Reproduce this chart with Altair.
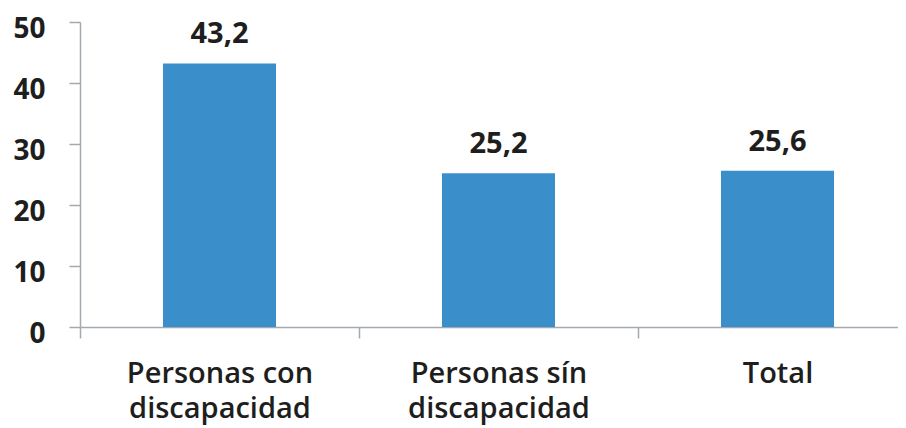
import altair as alt
import pandas as pd

categories = ["Personas con\ndiscapacidad", "Personas sín\ndiscapacidad", "Total"]
values = [43.2, 25.2, 25.6]
value_labels = ["43,2", "25,2", "25,6"]

df = pd.DataFrame({"cat": categories, "val": values, "lbl": value_labels})

FONT = "Open Sans"
AXIS_COLOR = "#a3a9b0"
TEXT_COLOR = "#1e1e1e"

x = alt.X(
    "cat:N",
    sort=categories,
    title=None,
    scale=alt.Scale(paddingInner=0, paddingOuter=0, range=[0, 837]),
    axis=alt.Axis(
        labelAngle=0,
        labelExpr="split(datum.label, '\\n')",
        labelFont=FONT,
        labelFontSize=29,
        labelFontWeight=600,
        labelColor=TEXT_COLOR,
        labelLineHeight=35,
        labelPadding=44,
        labelBaseline="alphabetic",
        labelLimit=400,
        tickBand="extent",
        tickSize=11,
        tickColor=AXIS_COLOR,
        domainColor=AXIS_COLOR,
        tickWidth=1.5,
        domainWidth=1.5,
    ),
)

y = alt.Y(
    "val:Q",
    title=None,
    scale=alt.Scale(domain=[0, 50], nice=False),
    axis=alt.Axis(
        values=[0, 10, 20, 30, 40, 50],
        grid=False,
        labelFont=FONT,
        labelFontSize=28,
        labelFontWeight="bold",
        labelColor=TEXT_COLOR,
        labelPadding=24,
        labelBaseline="alphabetic",
        labelOffset=15,
        tickSize=11,
        tickColor=AXIS_COLOR,
        domainColor=AXIS_COLOR,
        tickWidth=1.5,
        domainWidth=1.5,
    ),
)

bars = alt.Chart(df).mark_bar(color="#3a8fcb", size=113).encode(x=x, y=y)

text = alt.Chart(df).mark_text(
    font=FONT, fontSize=29, fontWeight="bold", color=TEXT_COLOR,
    baseline="alphabetic", dy=-20,
).encode(
    x=alt.X("cat:N", sort=categories),
    y=alt.Y("val:Q"),
    text="lbl:N",
)

chart = (
    alt.layer(bars, text)
    .properties(
        width=818,
        height=305,
        background="white",
        autosize=alt.AutoSizeParams(type="none"),
        padding={"left": 72, "top": 14, "right": 0, "bottom": 100},
    )
    .configure_view(strokeWidth=0)
    .configure_axis(grid=False)
)

chart.save("out.html", embed_options={"renderer": "svg", "actions": False})
